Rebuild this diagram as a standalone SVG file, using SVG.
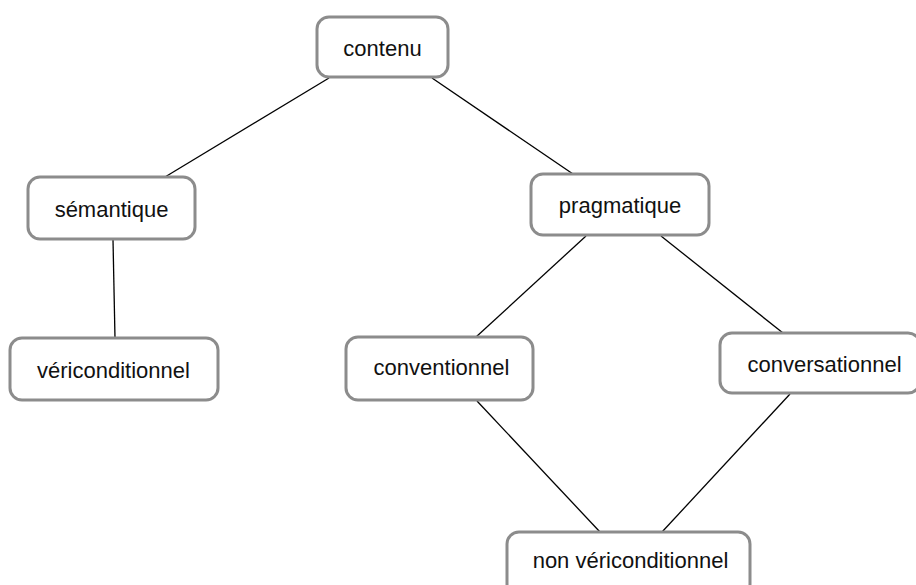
<svg xmlns="http://www.w3.org/2000/svg" width="916" height="585" viewBox="0 0 916 585">
  <style>
    .box { fill: #ffffff; stroke: #8c8c8c; stroke-width: 3; }
    .lbl { font-family: "Liberation Sans", Arial, sans-serif; font-size: 22px; fill: #111111; text-anchor: middle; dominant-baseline: central; }
    .edge { stroke: #000000; stroke-width: 1.3; fill: none; }
  </style>
  <rect width="916" height="585" fill="#ffffff"/>

  <g id="connectors">
    <line class="edge" x1="329" y1="78" x2="165" y2="177"/>
    <line class="edge" x1="432" y1="78" x2="573" y2="174"/>
    <line class="edge" x1="113" y1="240" x2="115" y2="338"/>
    <line class="edge" x1="586" y1="236" x2="476" y2="337"/>
    <line class="edge" x1="661" y1="236" x2="783" y2="333"/>
    <line class="edge" x1="477" y1="401" x2="600" y2="532"/>
    <line class="edge" x1="790" y1="394" x2="662" y2="532"/>
  </g>

  <g id="contenu">
    <rect class="box" x="317" y="17" width="131" height="60" rx="12"/>
    <text class="lbl" x="382.5" y="48.5">contenu</text>
  </g>
  <g id="semantique">
    <rect class="box" x="28" y="177" width="167" height="62" rx="12"/>
    <text class="lbl" x="111.5" y="209">sémantique</text>
  </g>
  <g id="pragmatique">
    <rect class="box" x="531" y="174" width="178" height="61" rx="12"/>
    <text class="lbl" x="620" y="205.5">pragmatique</text>
  </g>
  <g id="vericonditionnel">
    <rect class="box" x="10" y="338" width="208" height="62" rx="12"/>
    <text class="lbl" x="113.5" y="370.5">véricond&#105;tionnel</text>
  </g>
  <g id="conventionnel">
    <rect class="box" x="346" y="337" width="187" height="63" rx="12"/>
    <text class="lbl" x="441.5" y="367.5">conventionnel</text>
  </g>
  <g id="conversationnel">
    <rect class="box" x="720" y="333" width="200" height="60" rx="12"/>
    <text class="lbl" x="824.5" y="364">conversationnel</text>
  </g>
  <g id="non-vericonditionnel">
    <rect class="box" x="507" y="532" width="243" height="64" rx="12"/>
    <text class="lbl" x="630.5" y="560.5">non véricond&#105;tionnel</text>
  </g>
</svg>
